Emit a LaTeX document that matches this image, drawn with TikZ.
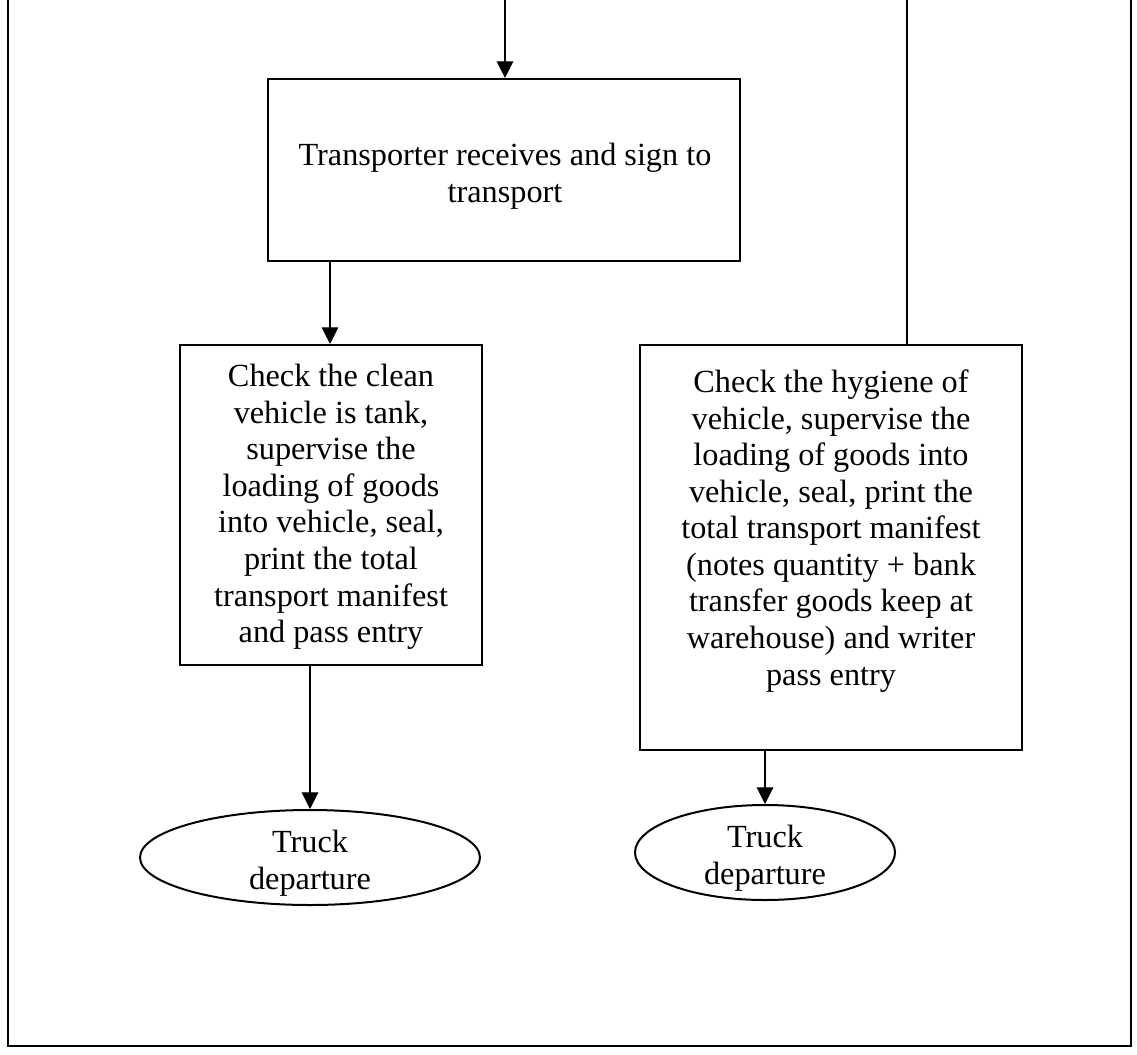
\documentclass[tikz,border=0pt]{standalone}
\usepackage{fontspec}
\setmainfont{Liberation Serif}
\usetikzlibrary{arrows.meta,shapes.geometric}
\begin{document}
\begin{tikzpicture}[x=0.75pt,y=-0.75pt,
  box/.style={draw,line width=1.6pt,rectangle,inner sep=0pt},
  oval/.style={draw,line width=1.5pt,ellipse,inner sep=0pt},
  txt/.style={align=center,font=\fontsize{24.2}{27.4}\selectfont,inner sep=0pt},
  flow/.style={line width=0.8pt,-{Triangle[width=12.5pt,length=12.5pt]}},
  plainline/.style={line width=0.8pt},
  frameline/.style={line width=1.9pt}]
\useasboundingbox (0,0) rectangle (1137,1055);
% frame
\coordinate (f1) at (8,0);
\coordinate (f2) at (8,1046);
\coordinate (f3) at (1131,1046);
\coordinate (f4) at (1131,0);
\draw[frameline] (f1) -- (f2) -- (f3) -- (f4);
% boxes
\node[box,minimum width=354pt,minimum height=136.5pt] (tbox) at (504,170) {};
\node[txt] (ttext) at (505,176) {Transporter receives and sign to\\transport};
\node[box,minimum width=226.5pt,minimum height=240pt] (lbox) at (331,505) {};
\node[txt] (ltext) at (331,507) {Check the clean\\vehicle is tank,\\supervise the\\loading of goods\\into vehicle, seal,\\print the total\\transport manifest\\and pass entry};
\node[box,minimum width=286.5pt,minimum height=303.75pt] (rbox) at (831,547.5) {};
\node[txt] (rtext) at (831,531) {Check the hygiene of\\vehicle, supervise the\\loading of goods into\\vehicle, seal, print the\\total transport manifest\\(notes quantity + bank\\transfer goods keep at\\warehouse) and writer\\pass entry};
% ellipses
\node[oval,minimum width=255pt,minimum height=71.25pt] (lell) at (310,857.5) {};
\node[txt] (lelltext) at (310,863) {Truck\\departure};
\node[oval,minimum width=195pt,minimum height=71.25pt] (rell) at (765,852.5) {};
\node[txt] (relltext) at (765,858) {Truck\\departure};
% connectors
\coordinate (topin) at (505,0);
\coordinate (rtop) at (907,0);
\coordinate (a1) at (330,0);
\draw[flow] (topin) -- (tbox.north -| topin);
\draw[flow] (tbox.south -| a1) -- (lbox.north -| a1);
\draw[flow] (lbox.south -| lell) -- (lell.north);
\draw[flow] (rbox.south -| rell) -- (rell.north);
\draw[plainline] (rtop) -- (rbox.north -| rtop);
\end{tikzpicture}
\end{document}
